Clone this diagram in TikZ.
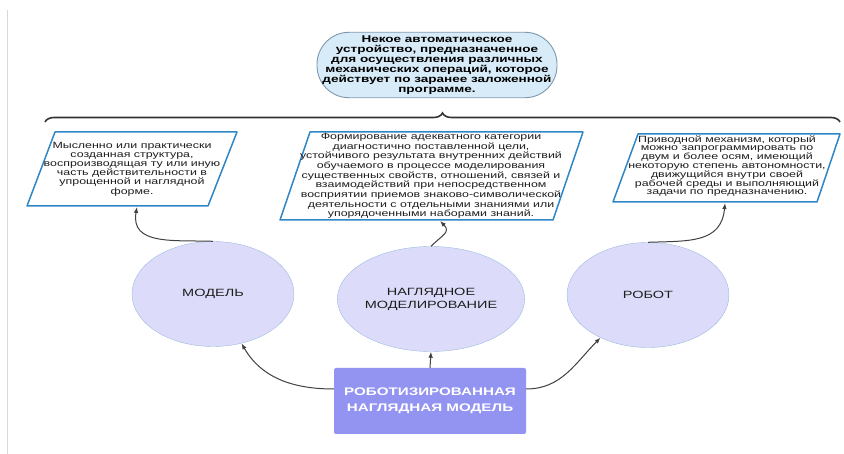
\documentclass[tikz,border=0pt]{standalone}
\usepackage{fontspec}
\setmainfont{Liberation Sans}
\newfontfamily\widesans[FakeStretch=1.38]{Liberation Sans}
\usetikzlibrary{shapes.geometric,arrows.meta,decorations.pathreplacing}

\definecolor{ovalfill}{HTML}{DCDCFA}
\definecolor{ovalline}{HTML}{9DBBE0}
\definecolor{boxline}{HTML}{2F86C4}
\definecolor{robofill}{HTML}{9393F2}
\definecolor{topfill}{HTML}{D8EBF8}
\definecolor{topline}{HTML}{7E98AE}
\definecolor{txt}{HTML}{1E1E1E}

\tikzset{
	term/.style={ellipse, draw=ovalline, fill=ovalfill, minimum width=162pt, minimum height=105pt,
		inner sep=0pt, align=center, text=txt, font=\widesans\fontsize{10.5}{13}\selectfont},
	defbox/.style={draw=boxline, line width=1.5pt, line join=round, fill=white},
	deftext/.style={align=center, text=txt, inner sep=0pt},
	conn/.style={draw=black!75, line width=1pt, -{Latex[length=6pt,width=4.5pt]}},
}

\begin{document}
\begin{tikzpicture}[x=1pt,y=1pt]
	\useasboundingbox (0,0) rectangle (844,-454);
	\draw[black!15] (7,-10) -- (7,-454);
	% top definition
	\node[draw=topline, fill=topfill, line width=0.9pt, rounded corners=32pt, minimum width=240pt,
		minimum height=65pt, align=center, text=black,
		font=\widesans\bfseries\fontsize{9.8}{10}\selectfont] (robotdef) at (437,-65)
		{Некое автоматическое\\устройство, предназначенное\\для осуществления различных\\механических операций, которое\\действует по заранее заложенной\\программе.};
	\draw[decorate, decoration={brace, amplitude=9pt}, line width=1.6pt, black!80] (45,-122) -- (840,-122);
	% definitions
	\coordinate (l1) at (55,-132);
	\coordinate (l2) at (237,-132);
	\coordinate (l3) at (208,-206);
	\coordinate (l4) at (27,-206);
	\draw[defbox] (l1) -- (l2) -- (l3) -- (l4) -- cycle;
	\node[deftext, font=\widesans\fontsize{9}{9.2}\selectfont] (modeldef) at (132,-169)
		{Мысленно или практически\\созданная структура,\\воспроизводящая ту или иную\\часть действительности в\\упрощенной и наглядной\\форме.};
	\coordinate (m1) at (310,-132);
	\coordinate (m2) at (583,-132);
	\coordinate (m3) at (553,-220);
	\coordinate (m4) at (280,-220);
	\draw[defbox] (m1) -- (m2) -- (m3) -- (m4) -- cycle;
	\node[deftext, font=\widesans\fontsize{9}{9.7}\selectfont] (visualdef) at (431,-176)
		{Формирование адекватного категории\\диагностично поставленной цели,\\устойчивого результата внутренних действий\\обучаемого в процессе моделирования\\существенных свойств, отношений, связей и\\взаимодействий при непосредственном\\восприятии приемов знаково-символической\\деятельности с отдельными знаниями или\\упорядоченными наборами знаний.};
	\coordinate (r1) at (638,-134);
	\coordinate (r2) at (840,-134);
	\coordinate (r3) at (817,-202);
	\coordinate (r4) at (613,-202);
	\draw[defbox] (r1) -- (r2) -- (r3) -- (r4) -- cycle;
	\node[deftext, font=\widesans\fontsize{9}{8.8}\selectfont] (robodef) at (727,-166)
		{Приводной механизм, который\\можно запрограммировать по\\двум и более осям, имеющий\\некоторую степень автономности,\\движущийся внутри своей\\рабочей среды и выполняющий\\задачи по предназначению.};
	% terms
	\node[term] (model) at (213,-294) {МОДЕЛЬ};
	\node[term] (visual) at (431,-299) {НАГЛЯДНОЕ\\МОДЕЛИРОВАНИЕ};
	\node[term] (robot) at (648,-295) {РОБОТ};
	\node[fill=robofill, rounded corners=2pt, minimum width=192pt, minimum height=66pt, align=center,
		text=white, font=\widesans\bfseries\fontsize{11}{16}\selectfont] (robomodel) at (430,-401)
		{РОБОТИЗИРОВАННАЯ\\НАГЛЯДНАЯ МОДЕЛЬ};
	% connectors
	\coordinate (modelfoot) at (137,-207);
	\coordinate (visualfoot) at (440,-221);
	\coordinate (robotfoot) at (725,-203);
	\draw[conn] ([yshift=12pt]robomodel.west) to[out=180,in=-60] (model.-60);
	\draw[conn] (robomodel.north) -- (visual.south);
	\draw[conn] ([yshift=12pt]robomodel.east) to[out=0,in=-135] (robot.-138);
	\draw[conn] (model.north) to[out=178,in=-100,looseness=1.2] (modelfoot);
	\draw[conn] (visual.north) to[out=45,in=-45,looseness=1.5] (visualfoot);
	\draw[conn] (robot.north) to[out=2,in=-95,looseness=1.2] (robotfoot);
\end{tikzpicture}
\end{document}
